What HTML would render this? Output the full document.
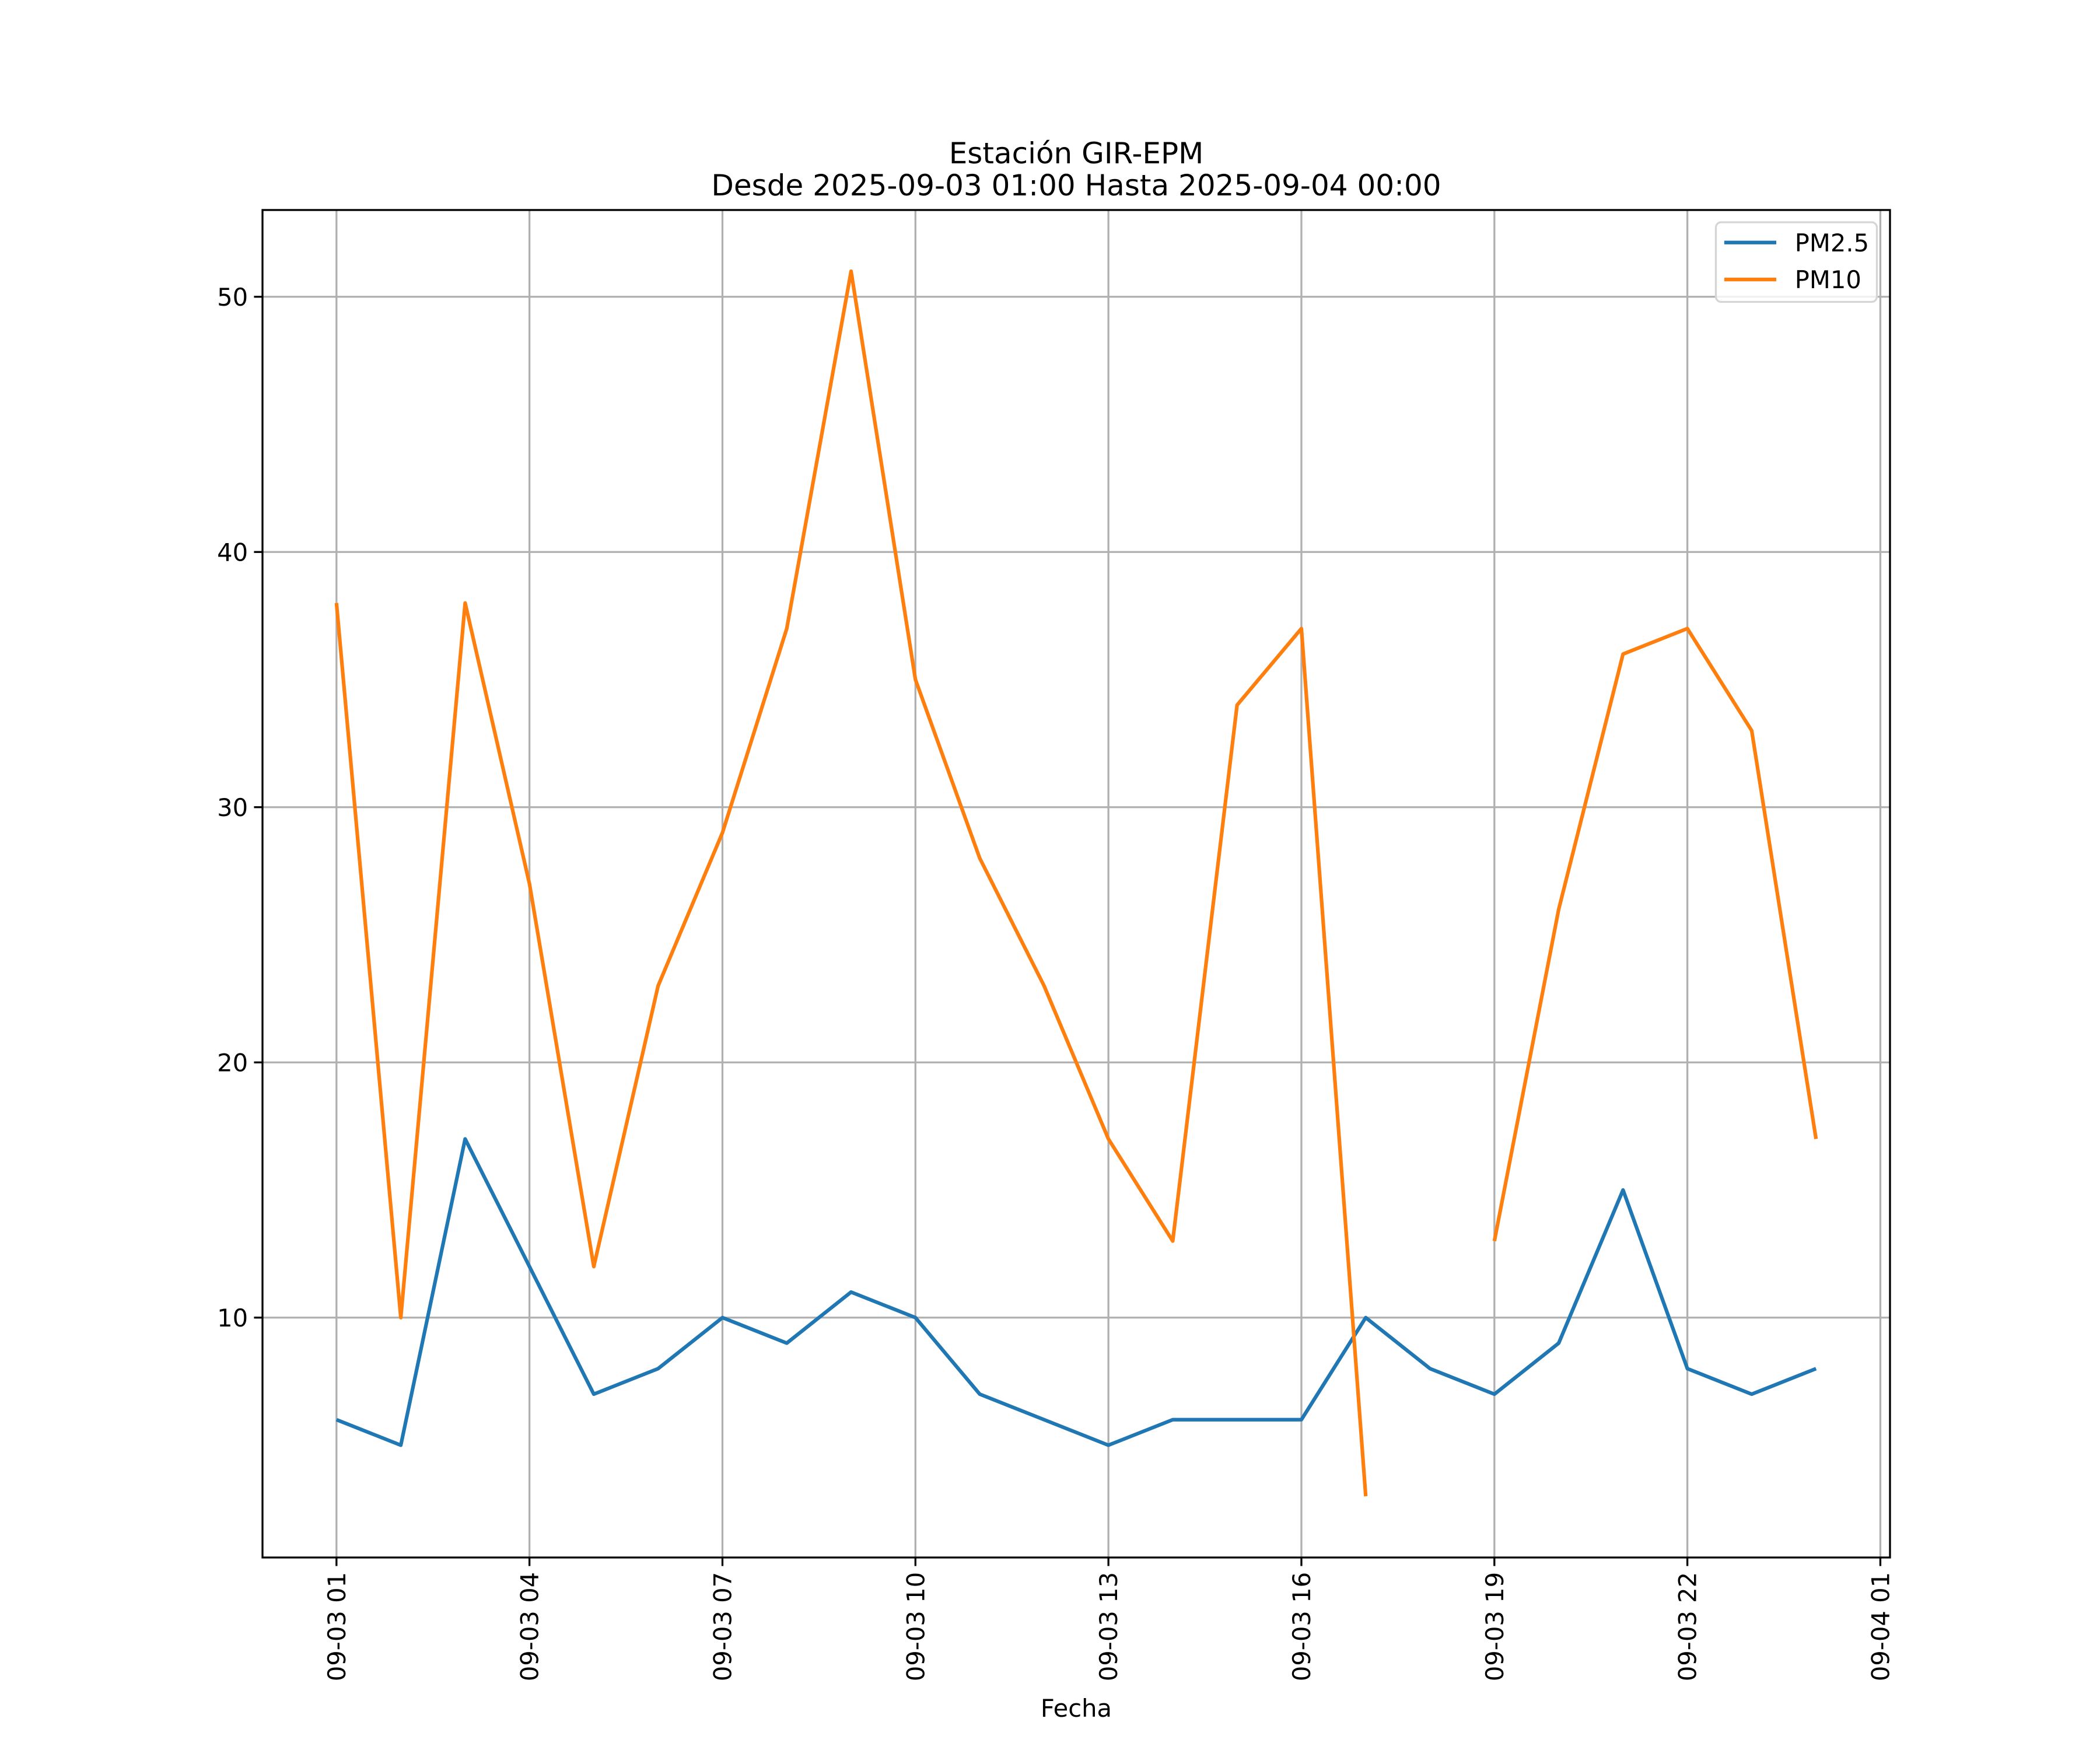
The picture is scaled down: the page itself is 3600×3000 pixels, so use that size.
<!DOCTYPE html>
<html><head><meta charset="utf-8"><style>html,body{margin:0;padding:0;background:#fff}svg{display:block}text{font-family:"DejaVu Sans","Liberation Sans",sans-serif}</style></head>
<body>
<svg id="chart" width="3600" height="3000" viewBox="0 0 1200 1000" xmlns="http://www.w3.org/2000/svg">
<rect width="1200" height="1000" fill="#fff"/>
<g id="grid"></g><g id="series"></g><g id="axes"></g>
<text x="615" y="93.3" font-size="16.67" text-anchor="middle">Estación GIR-EPM</text>
<text x="615" y="111.7" font-size="16.67" text-anchor="middle">Desde 2025-09-03 01:00 Hasta 2025-09-04 00:00</text>
<text x="615" y="981" font-size="13.89" text-anchor="middle">Fecha</text>
<g>
<rect x="980.5" y="127" width="92" height="45.5" rx="3" fill="#fff" fill-opacity="0.8" stroke="#d5d5d5" stroke-width="1.1"/>
<line x1="985.3" y1="138.6" x2="1015" y2="138.6" stroke="#1f77b4" stroke-width="2.08"/>
<text x="1025.6" y="143.6" font-size="13.89">PM2.5</text>
<line x1="985.3" y1="159.7" x2="1015" y2="159.7" stroke="#ff7f0e" stroke-width="2.08"/>
<text x="1025.6" y="164.7" font-size="13.89">PM10</text>
</g>
</svg>
<script>
const hours = [0,1,2,3,4,5,6,7,8,9,10,11,12,13,14,15,16,17,18,19,20,21,22,23];
const pm25 = [6,5,17,12,7,8,10,9,11,10,7,6,5,6,6,6,10,8,7,9,15,8,7,8];
const pm10 = [38,10,38,27,12,23,29,37,51,35,28,23,17,13,34,37,3,null,13,26,36,37,33,17];
const xTickHours = [0,3,6,9,12,15,18,21,24];
const xTickLabels = ["09-03 01","09-03 04","09-03 07","09-03 10","09-03 13","09-03 16","09-03 19","09-03 22","09-04 01"];
const yTicks = [10,20,30,40,50];

const L=150,R=1080,T=120,B=890;
const xmin=-1.15,xmax=24.15,ymin=0.6,ymax=53.4;
const sx=v=>L+(v-xmin)/(xmax-xmin)*(R-L);
const sy=v=>B-(v-ymin)/(ymax-ymin)*(B-T);
const NS="http://www.w3.org/2000/svg";
function mk(tag,attrs,parent){const e=document.createElementNS(NS,tag);for(const k in attrs)e.setAttribute(k,attrs[k]);parent.appendChild(e);return e;}
const grid=document.getElementById('grid'),axes=document.getElementById('axes'),series=document.getElementById('series');
xTickHours.forEach((h,i)=>{
  const x=sx(h);
  const g=mk('line',{x1:x,x2:x,y1:T,y2:B,stroke:'#b0b0b0','stroke-width':1.1},grid);
  
  
  const t=mk('line',{x1:x,x2:x,y1:B,y2:B+4.86,stroke:'#000','stroke-width':1.1},axes);
  
  
  const tx=mk('text',{x:0,y:0,'font-size':13.89,'text-anchor':'end',transform:`translate(${x+5},${B+8.3}) rotate(-90)`},axes);
  tx.textContent=xTickLabels[i];
  
  
});
yTicks.forEach(v=>{
  const y=sy(v);
  const g=mk('line',{x1:L,x2:R,y1:y,y2:y,stroke:'#b0b0b0','stroke-width':1.1},grid);
  
  
  const t=mk('line',{x1:L-4.86,x2:L,y1:y,y2:y,stroke:'#000','stroke-width':1.1},axes);
  
  
  const tx=mk('text',{x:L-8.3,y:y+5,'font-size':13.89,'text-anchor':'end'},axes);
  tx.textContent=String(v);
  
  
});
const frame=mk('rect',{x:L,y:T,width:R-L,height:B-T,fill:'none',stroke:'#000','stroke-width':1.1},axes);


function drawSeries(vals,color,name){
  let d='',pen=false;
  vals.forEach((v,i)=>{
    if(v===null){pen=false;return;}
    d+=(pen?'L':'M')+sx(hours[i]).toFixed(2)+' '+sy(v).toFixed(2)+' ';
    pen=true;
  });
  const p=mk('path',{d:d,fill:'none',stroke:color,'stroke-width':2.08,'stroke-linejoin':'round','stroke-linecap':'butt'},series);
  
  
}
drawSeries(pm25,'#1f77b4','pm25-line');
drawSeries(pm10,'#ff7f0e','pm10-line');
</script>
</body></html>
